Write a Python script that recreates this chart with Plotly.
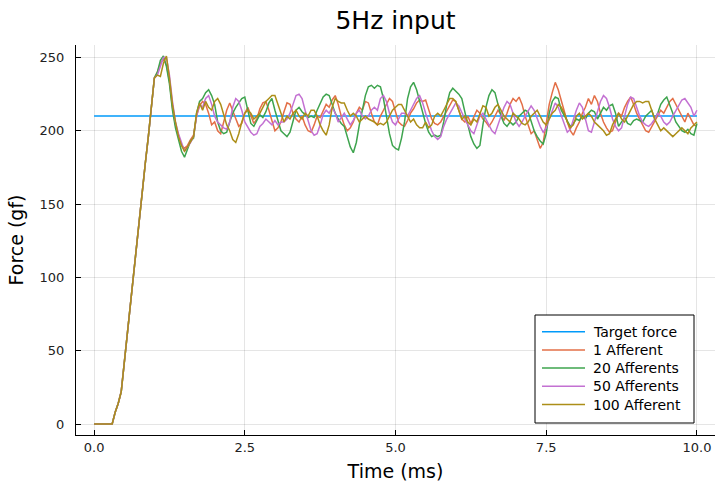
import numpy as np
import plotly.graph_objects as go

# time grid (ms), 0.05 ms steps
time = np.round(np.arange(0, 10.0001, 0.05), 2)

target_force = 210

# common rising phase t = 0.00 .. 1.00
rise = [0, 0, 0, 0, 0, 0, 0, 8, 14, 22,
        42, 60, 82, 102, 120, 142, 162, 178, 196, 214,
        236]

# t = 1.05 .. 10.00
aff1_tail = [240, 246, 249, 245, 234, 216, 204, 196, 190, 188,
             190, 194, 197, 210, 217, 220, 218, 212, 204, 206,
             200, 198, 206, 214, 219, 214, 208, 203, 205, 212,
             216, 210, 205, 208, 215, 219, 220, 214, 206, 200,
             202, 206, 213, 219, 218, 212, 208, 206, 210, 204,
             200, 199, 204, 210, 209, 214, 218, 216, 221, 224,
             218, 210, 204, 200, 202, 206, 212, 216, 214, 220,
             219, 212, 206, 204, 210, 214, 218, 222, 220, 212,
             206, 204, 203, 207, 212, 215, 219, 221, 220, 221,
             214, 208, 205, 204, 206, 210, 214, 218, 221, 220,
             214, 208, 206, 210, 205, 209, 214, 212, 208, 206,
             203, 206, 210, 214, 211, 207, 212, 218, 222, 220,
             223, 218, 210, 204, 198, 200, 194, 188, 192, 204,
             218, 226, 233, 228, 220, 214, 206, 200, 197, 202,
             206, 212, 216, 222, 218, 224, 220, 212, 206, 202,
             199, 200, 206, 212, 210, 216, 220, 223, 218, 212,
             208, 204, 200, 199, 203, 206, 210, 214, 212, 216,
             220, 222, 218, 214, 210, 206, 212, 208, 204, 203]

aff20_tail = [240, 248, 251, 244, 232, 214, 202, 194, 186, 182,
              188, 193, 195, 212, 220, 222, 226, 228, 224, 218,
              206, 200, 198, 199, 206, 212, 216, 219, 222, 223,
              214, 205, 203, 207, 211, 209, 213, 219, 222, 214,
              206, 200, 198, 196, 199, 207, 214, 216, 213, 211,
              209, 210, 209, 214, 219, 223, 225, 224, 218, 212,
              208, 205, 203, 196, 189, 185, 192, 204, 215, 224,
              230, 231, 229, 231, 230, 222, 210, 198, 190, 188,
              187, 195, 206, 222, 230, 233, 228, 220, 212, 205,
              199, 196, 197, 196, 197, 206, 218, 226, 229, 227,
              225, 222, 212, 204, 196, 191, 188, 190, 204, 216,
              224, 228, 226, 218, 210, 205, 203, 206, 204, 206,
              210, 212, 214, 213, 206, 200, 196, 193, 191, 198,
              212, 220, 223, 222, 214, 210, 206, 203, 205, 208,
              207, 210, 208, 212, 214, 213, 208, 212, 216, 214,
              217, 218, 212, 203, 206, 209, 205, 204, 207, 208,
              207, 206, 210, 212, 214, 208, 212, 218, 221, 223,
              218, 212, 206, 203, 200, 199, 201, 198, 197, 205]

aff50_tail = [238, 244, 250, 250, 238, 220, 206, 198, 192, 186,
              189, 192, 196, 210, 218, 216, 222, 224, 218, 210,
              206, 204, 202, 201, 206, 216, 222, 220, 214, 206,
              202, 199, 197, 198, 203, 205, 208, 206, 204, 207,
              204, 206, 206, 208, 212, 218, 224, 225, 222, 214,
              206, 200, 197, 198, 204, 211, 214, 212, 216, 212,
              206, 209, 212, 208, 204, 207, 212, 214, 210, 208,
              210, 214, 216, 214, 222, 224, 220, 212, 206, 204,
              208, 212, 212, 210, 214, 218, 222, 224, 219, 212,
              206, 200, 196, 194, 196, 203, 208, 212, 216, 219,
              217, 212, 208, 204, 200, 198, 204, 210, 212, 208,
              204, 200, 198, 204, 210, 216, 220, 218, 212, 206,
              203, 206, 210, 214, 217, 214, 208, 203, 199, 202,
              208, 214, 219, 216, 210, 204, 199, 201, 208, 214,
              219, 216, 208, 200, 199, 206, 214, 220, 224, 222,
              216, 208, 203, 200, 202, 210, 218, 223, 222, 216,
              210, 206, 204, 203, 205, 208, 212, 210, 206, 204,
              206, 210, 214, 218, 221, 222, 219, 216, 210, 214]

aff100_tail = [238, 237, 246, 251, 236, 218, 206, 196, 190, 186,
               189, 193, 196, 212, 219, 214, 220, 216, 214, 220,
               222, 218, 210, 204, 200, 194, 192, 198, 206, 212,
               214, 212, 208, 210, 212, 216, 220, 222, 224, 224,
               218, 212, 206, 210, 208, 212, 214, 210, 208, 212,
               210, 214, 214, 210, 204, 200, 197, 204, 216, 222,
               220, 219, 219, 214, 210, 212, 210, 206, 208, 210,
               208, 207, 206, 204, 205, 204, 206, 210, 214, 216,
               218, 218, 214, 210, 206, 208, 204, 202, 202, 206,
               202, 204, 210, 212, 210, 214, 218, 222, 222, 220,
               214, 208, 210, 206, 204, 208, 206, 212, 217, 216,
               210, 212, 216, 218, 214, 210, 208, 206, 212, 210,
               208, 205, 204, 206, 210, 212, 214, 210, 206, 204,
               208, 212, 214, 218, 216, 212, 206, 202, 204, 210,
               212, 208, 210, 212, 210, 206, 204, 202, 200, 197,
               198, 204, 208, 212, 208, 206, 210, 214, 218, 220,
               220, 219, 220, 220, 214, 208, 204, 200, 202, 200,
               198, 196, 198, 200, 202, 200, 198, 202, 204, 206]

legend_names = ["Target force", "1 Afferent", "20 Afferents", "50 Afferents", "100 Afferent"]
colors = ["#009AFA", "#E36F47", "#3EA44E", "#C371D2", "#AC8E18"]
series_values = [rise + aff1_tail, rise + aff20_tail, rise + aff50_tail, rise + aff100_tail]

x_ticks = [0.0, 2.5, 5.0, 7.5, 10.0]
x_ticklabels = ["0.0", "2.5", "5.0", "7.5", "10.0"]
y_ticks = [0, 50, 100, 150, 200, 250]

font_family = "DejaVu Sans"

W, H = 716, 491
L, R, T, B = 76, 715, 45, 435  # plot-area pixel box


def px(xp):
    return (xp - L) / (R - L)


def py(yp):
    return (B - yp) / (B - T)


fig = go.Figure()
fig.add_trace(go.Scatter(x=[time[0], time[-1]], y=[target_force, target_force],
                         mode="lines", name=legend_names[0],
                         line=dict(color=colors[0], width=1.5)))
for name, vals, col in zip(legend_names[1:], series_values, colors[1:]):
    fig.add_trace(go.Scatter(x=time, y=vals, mode="lines", name=name,
                             line=dict(color=col, width=1.5)))

# manual legend (box, line samples, labels)
shapes = [dict(type="rect", xref="paper", yref="paper",
               x0=px(535), x1=px(694), y0=py(423), y1=py(315),
               line=dict(color="#000", width=1), fillcolor="white", layer="above")]
annotations = []
row_y0, row_dy = 331.7, 18.2
for i, (name, col) in enumerate(zip(legend_names, colors)):
    yy = row_y0 + i * row_dy
    shapes.append(dict(type="line", xref="paper", yref="paper",
                       x0=px(542), x1=px(585), y0=py(yy), y1=py(yy),
                       line=dict(color=col, width=1.5), layer="above"))
    annotations.append(dict(text=name, xref="paper", yref="paper",
                            x=px(591), y=py(yy), xanchor="left", yanchor="middle",
                            showarrow=False,
                            font=dict(size=14, family=font_family, color="#000")))

fig.update_layout(
    width=W, height=H,
    margin=dict(l=L, r=W - R, t=T, b=H - B, autoexpand=False),
    paper_bgcolor="white", plot_bgcolor="white",
    font=dict(family=font_family, color="#000000"),
    title=dict(text="5Hz input", x=0.5, xref="paper", xanchor="center",
               y=1 - 20 / H, yanchor="middle",
               font=dict(size=25, family=font_family, color="#000")),
    showlegend=False,
    shapes=shapes,
    annotations=annotations,
    xaxis=dict(range=[-0.3, 10.3], tickvals=x_ticks, ticktext=x_ticklabels,
               showline=True, linecolor="#000", linewidth=1, mirror=False,
               ticks="inside", ticklen=5, tickcolor="#000",
               showgrid=True, gridcolor="rgba(0,0,0,0.1)", gridwidth=1,
               zeroline=False, automargin=False,
               tickfont=dict(size=13, family=font_family, color="#222"),
               title=dict(text="Time (ms)", standoff=11,
                          font=dict(size=19, family=font_family, color="#000"))),
    yaxis=dict(range=[-7.5, 258.5], tickvals=y_ticks,
               showline=True, linecolor="#000", linewidth=1, mirror=False,
               ticks="inside", ticklen=5, tickcolor="#000",
               showgrid=True, gridcolor="rgba(0,0,0,0.1)", gridwidth=1,
               zeroline=False, ticklabelstandoff=8, automargin=False,
               tickfont=dict(size=13, family=font_family, color="#222"),
               title=dict(text="Force (gf)", standoff=10,
                          font=dict(size=19, family=font_family, color="#000"))),
)

fig.write_html("out.html", config={"displayModeBar": False},
               post_script="document.body.style.margin='0px';document.body.style.padding='0px';document.body.style.overflow='hidden';")
